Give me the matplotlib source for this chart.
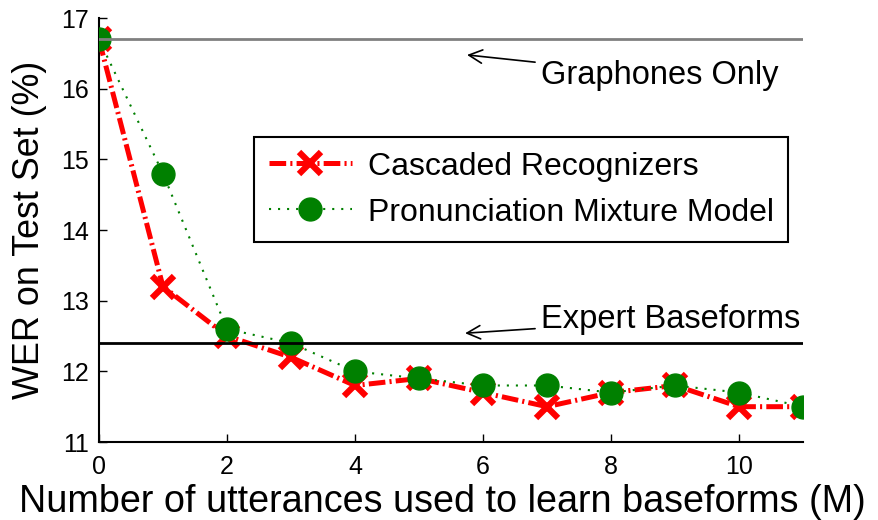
import numpy as np
import matplotlib
matplotlib.use('Agg')
import matplotlib.pyplot as plt

plt.rcParams['font.family'] = ['Liberation Sans', 'DejaVu Sans']
plt.rcParams['lines.scale_dashes'] = False

# 데이터
utterances = [0, 1, 2, 3, 4, 5, 6, 7, 8, 9, 10, 11]
cascaded = [16.7, 13.2, 12.5, 12.2, 11.8, 11.9, 11.7, 11.5, 11.7, 11.8, 11.5, 11.5]
pmm = [16.7, 14.8, 12.6, 12.4, 12.0, 11.9, 11.8, 11.8, 11.7, 11.8, 11.7, 11.5]
graphones_only = 16.7
expert_baseforms = 12.4
x_range = [0, 11]
x_ticks = [0, 2, 4, 6, 8, 10]
y_ticks = [11, 12, 13, 14, 15, 16, 17]

fig = plt.figure(figsize=(8.79, 5.2), dpi=100)
ax = fig.add_axes([0.1126, 0.15, 0.801, 0.815])

ax.plot(utterances, cascaded, color='red', lw=3.6, dashes=[12, 3, 1.5, 3],
        marker='x', ms=16, mew=4.5, label='Cascaded Recognizers', zorder=3)
ax.plot(utterances, pmm, color='green', lw=1.5, dashes=[1.5, 5],
        marker='o', ms=16.5, mec='green', label='Pronunciation Mixture Model', zorder=4)

# 기준선
ax.plot(x_range, [graphones_only] * 2, color='0.5', lw=2, zorder=5)
ax.plot(x_range, [expert_baseforms] * 2, color='black', lw=2, zorder=5)

ax.annotate('Graphones Only', xy=(5.75, 16.48), xytext=(6.9, 16.19),
            fontsize=23.5, va='center', ha='left',
            arrowprops=dict(arrowstyle='->', color='black', lw=1.2,
                            shrinkA=2, shrinkB=0, mutation_scale=24))
ax.annotate('Expert Baseforms', xy=(5.72, 12.54), xytext=(6.9, 12.73),
            fontsize=23.5, va='center', ha='left',
            arrowprops=dict(arrowstyle='->', color='black', lw=1.2,
                            shrinkA=2, shrinkB=0, mutation_scale=24))

ax.set_xlim(0, 11)
ax.set_ylim(11, 17)
ax.set_xticks(x_ticks)
ax.set_yticks(y_ticks)
ax.tick_params(direction='in', length=6, width=1)
ax.tick_params(axis='x', labelsize=18, pad=9)
ax.tick_params(axis='y', labelsize=18, pad=7)
ax.spines['top'].set_visible(False)
ax.spines['right'].set_visible(False)
ax.spines['left'].set_linewidth(1.5)
ax.spines['bottom'].set_linewidth(1.5)

ax.set_xlabel('Number of utterances used to learn baseforms (M)', fontsize=27.2, labelpad=3)
ax.xaxis.set_label_coords(0.488, -0.098)
ax.set_ylabel('WER on Test Set (%)', fontsize=25.8, labelpad=10)

leg = ax.legend(loc='upper right', bbox_to_anchor=(0.979, 0.719), borderaxespad=0,
                fontsize=23, fancybox=False, framealpha=1, edgecolor='black',
                handlelength=2.6, borderpad=0.45, labelspacing=0.5, handletextpad=0.5)
leg.get_frame().set_linewidth(1.5)

fig.savefig('out.png', dpi=100)
